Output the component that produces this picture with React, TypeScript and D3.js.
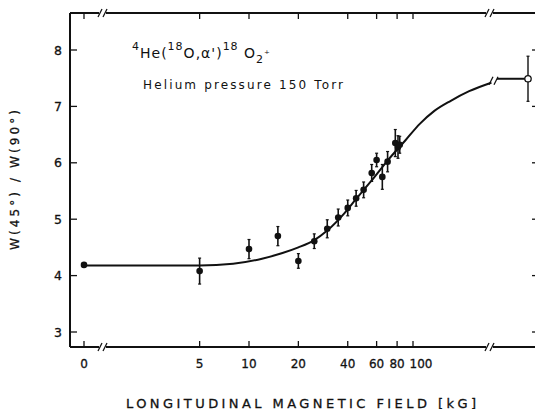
import * as d3 from 'd3';

// measured points (field in kG, ratio W(45)/W(90), error)
const fields = [0, 5, 10, 15, 20, 25, 30, 35, 40, 45, 50, 56, 60, 65, 70, 78, 81, 83];
const ratios = [4.19, 4.08, 4.47, 4.70, 4.26, 4.61, 4.83, 5.03, 5.20, 5.37, 5.52, 5.82, 6.05, 5.75, 6.02, 6.35, 6.28, 6.32];
const errors = [0.04, 0.23, 0.17, 0.17, 0.13, 0.13, 0.16, 0.15, 0.14, 0.14, 0.14, 0.15, 0.12, 0.22, 0.18, 0.24, 0.2, 0.15];

// fitted curve
const curveFields = [0, 5, 8, 12, 16, 20, 25, 30, 38, 45, 55, 70, 90, 110, 135, 170, 220, 300];
const curveRatios = [4.18, 4.18, 4.21, 4.3, 4.4, 4.5, 4.63, 4.8, 5.1, 5.36, 5.66, 6.04, 6.4, 6.69, 6.92, 7.1, 7.27, 7.42];

// saturation value (infinite field)
const infRatio = 7.49;
const infError = 0.4;

const xTickValues = [5, 10, 20, 40, 60, 80, 100];
const yTickValues = [3, 4, 5, 6, 7, 8];

const W = 536;
const H = 412;

export default function App() {
  const x = d3.scaleLog().domain([10, 100]).range([249, 413]);
  const y = d3.scaleLinear().domain([3, 8]).range([332, 50]);

  const left = 70;
  const right = 535;
  const top = 13;
  const bottom = 347;
  const xZero = 84;
  const xInf = 528;
  const breakLow = 104;
  const breakHigh = 491;

  const px = (f: number) => (f === 0 ? xZero : x(f));

  const line = d3.line<number>()
    .x((_, i) => px(curveFields[i]))
    .y(d => y(d))
    .curve(d3.curveMonotoneX);

  const font = '"DejaVu Sans", sans-serif';
  const ink = '#111';

  const breakMark = (cx: number, cy: number, key: string) => (
    <g key={key}>
      <line x1={cx - 6} y1={cy + 4} x2={cx - 2} y2={cy - 4} stroke={ink} strokeWidth={1.2} />
      <line x1={cx - 1} y1={cy + 4} x2={cx + 3} y2={cy - 4} stroke={ink} strokeWidth={1.2} />
    </g>
  );

  const allTicks = [0, ...xTickValues];
  const lastCurveX = px(curveFields[curveFields.length - 1]);
  const lastCurveY = y(curveRatios[curveRatios.length - 1]);

  // "100" sits a little right of its tick, as in the print
  const labelShift = (t: number) => (t === 100 ? 8 : 0);

  return (
    <svg width={W} height={H} style={{ position: 'absolute', left: 0, top: 0, background: '#fff' }}>
      <rect width={W} height={H} fill="#fff" />
      {/* frame */}
      <line x1={left} y1={top} x2={left} y2={bottom} stroke={ink} strokeWidth={2} />
      {[top, bottom].map(yy => (
        <g key={yy}>
          <line x1={left} y1={yy} x2={breakLow - 5} y2={yy} stroke={ink} strokeWidth={2} />
          <line x1={breakLow + 2} y1={yy} x2={breakHigh - 5} y2={yy} stroke={ink} strokeWidth={2} />
          <line x1={breakHigh + 2} y1={yy} x2={right} y2={yy} stroke={ink} strokeWidth={2} />
          {breakMark(breakLow, yy, 'bl' + yy)}
          {breakMark(breakHigh, yy, 'bh' + yy)}
        </g>
      ))}

      {/* x ticks */}
      {allTicks.map(t => (
        <g key={'xt' + t}>
          <line x1={px(t)} y1={bottom} x2={px(t)} y2={bottom - 6} stroke={ink} strokeWidth={1.3} />
          <line x1={px(t)} y1={top} x2={px(t)} y2={top + 6} stroke={ink} strokeWidth={1.3} />
        </g>
      ))}
      {allTicks.map(t => (
        <text key={'xl' + t} x={px(t) + labelShift(t)} y={368} textAnchor="middle" fontFamily={font}
          fontSize={12} fill={ink} stroke={ink} strokeWidth={0.3}>
          {t}
        </text>
      ))}

      {/* y ticks */}
      {yTickValues.map(t => (
        <g key={'yt' + t}>
          <line x1={left} y1={y(t)} x2={left + 7} y2={y(t)} stroke={ink} strokeWidth={1.3} />
          <line x1={right} y1={y(t)} x2={right - 3} y2={y(t)} stroke={ink} strokeWidth={1.3} />
          <text x={62} y={y(t) + 4.5} textAnchor="end" fontFamily={font} fontSize={12.5} fill={ink}
            stroke={ink} strokeWidth={0.3}>
            {t}
          </text>
        </g>
      ))}

      {/* axis titles */}
      <text
        transform="translate(19,180) rotate(-90)"
        textAnchor="middle"
        fontFamily={font}
        fontSize={12}
        fill={ink}
        stroke={ink}
        strokeWidth={0.3}
        textLength={140}
        lengthAdjust="spacing"
      >
        W(45°) / W(90°)
      </text>
      <text x={126} y={408} fontFamily={font} fontSize={13} fill={ink} stroke={ink} strokeWidth={0.3}
        textLength={350} lengthAdjust="spacing">
        LONGITUDINAL  MAGNETIC  FIELD [kG]
      </text>

      {/* annotation */}
      <text x={132} y={58} fontFamily={font} fontSize={14} fill={ink} letterSpacing={1}>
        <tspan fontSize={11} dy={-8}>4</tspan>
        <tspan dy={8}>He(</tspan>
        <tspan fontSize={11} dy={-8}>18</tspan>
        <tspan dy={8}>O,α')</tspan>
        <tspan fontSize={11} dy={-8}>18</tspan>
        <tspan dy={8}> O</tspan>
        <tspan fontSize={11} dy={5}>2</tspan>
        <tspan fontSize={11} dy={-5}>⁺</tspan>
      </text>
      <text x={143} y={89} fontFamily={font} fontSize={12} fill={ink} textLength={200} lengthAdjust="spacing">
        Helium  pressure 150 Torr
      </text>

      {/* fitted curve */}
      <path d={line(curveRatios) ?? ''} fill="none" stroke={ink} strokeWidth={2} />
      <line x1={lastCurveX} y1={lastCurveY} x2={breakHigh} y2={lastCurveY} stroke={ink} strokeWidth={2} />
      {breakMark(breakHigh + 4, (lastCurveY + y(infRatio)) / 2, 'cb')}
      <line x1={breakHigh + 6} y1={y(infRatio)} x2={xInf} y2={y(infRatio)} stroke={ink} strokeWidth={2} />

      {/* data points */}
      {fields.map((f, i) => {
        const cx = px(f);
        const v = ratios[i];
        const e = errors[i];
        return (
          <g key={'p' + i}>
            <line x1={cx} y1={y(v - e)} x2={cx} y2={y(v + e)} stroke={ink} strokeWidth={1.6} />
            <line x1={cx - 1.5} y1={y(v - e)} x2={cx + 1.5} y2={y(v - e)} stroke={ink} strokeWidth={1.2} />
            <line x1={cx - 1.5} y1={y(v + e)} x2={cx + 1.5} y2={y(v + e)} stroke={ink} strokeWidth={1.2} />
            <circle cx={cx} cy={y(v)} r={3.3} fill={ink} />
          </g>
        );
      })}

      {/* infinite field point */}
      <line x1={xInf} y1={y(infRatio - infError)} x2={xInf} y2={y(infRatio + infError)} stroke={ink} strokeWidth={1.4} />
      <line x1={xInf - 1.5} y1={y(infRatio + infError)} x2={xInf + 1.5} y2={y(infRatio + infError)} stroke={ink} strokeWidth={1.2} />
      <line x1={xInf - 1.5} y1={y(infRatio - infError)} x2={xInf + 1.5} y2={y(infRatio - infError)} stroke={ink} strokeWidth={1.2} />
      <circle cx={xInf} cy={y(infRatio)} r={3.2} fill="#fff" stroke={ink} strokeWidth={1.3} />
    </svg>
  );
}
